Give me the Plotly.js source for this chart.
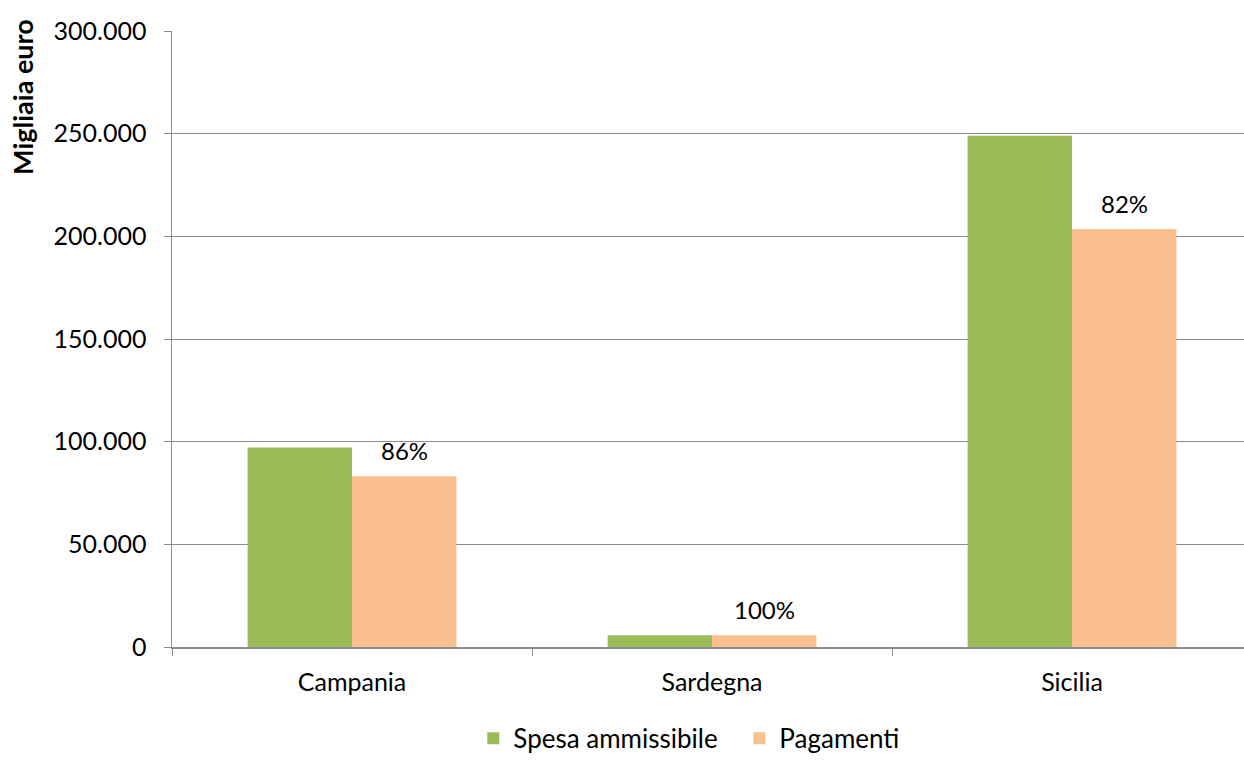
<!DOCTYPE html>
<html>
<head>
<meta charset="utf-8">
<script src="https://cdn.plot.ly/plotly-3.0.1.min.js"></script>
<style>
  html, body { margin: 0; padding: 0; overflow: hidden; background: #fff; }
  #chart { width: 1262px; height: 760px; }
</style>
</head>
<body>
<div id="chart"></div>
<script>
// Regions and amounts (thousands of euro)
const regioni = ["Campania", "Sardegna", "Sicilia"];
const spesaAmmissibile = [97100, 5700, 249000];
const pagamenti = [83100, 5700, 203600];
const yTickValues = [0, 50000, 100000, 150000, 200000, 250000, 300000];
const yTickLabels = ["0", "50.000", "100.000", "150.000", "200.000", "250.000", "300.000"];

const FONT = "Lato, 'Open Sans', sans-serif";
const GRID = "#8c8c8c";

const traces = [
  {
    type: "bar",
    name: "Spesa ammissibile",
    x: regioni,
    y: spesaAmmissibile,
    marker: { color: "#9BBB59" },
    hoverinfo: "x+y"
  },
  {
    type: "bar",
    name: "Pagamenti",
    x: regioni,
    y: pagamenti,
    marker: { color: "#FAC090" },
    hoverinfo: "x+y"
  }
];

// Share of payments over eligible spending, shown above each payment bar
const annotations = regioni.map((r, i) => ({
  x: r,
  y: pagamenti[i],
  xref: "x",
  yref: "y",
  xshift: 52,
  yshift: 9,
  yanchor: "bottom",
  showarrow: false,
  text: Math.round(pagamenti[i] / spesaAmmissibile[i] * 100) + "%",
  font: { family: FONT, size: 24, color: "#000" }
}));

annotations.push({
  xref: "paper",
  yref: "paper",
  x: 0,
  y: 0.893,
  xshift: -149,
  xanchor: "center",
  yanchor: "middle",
  textangle: -90,
  showarrow: false,
  text: "<b>Migliaia euro</b>",
  font: { family: FONT, size: 27, color: "#000" }
});

const layout = {
  width: 1262,
  height: 760,
  margin: { l: 172, r: 10, t: 31, b: 113, autoexpand: false },
  paper_bgcolor: "#fff",
  plot_bgcolor: "#fff",
  barmode: "group",
  bargap: 0.42,
  bargroupgap: 0,
  font: { family: FONT, size: 25, color: "#000" },
  showlegend: true,
  legend: {
    orientation: "h",
    x: 0.279,
    xanchor: "left",
    y: -0.11,
    yanchor: "top",
    font: { family: FONT, size: 26, color: "#000" },
    itemwidth: 30,
    entrywidth: 221,
    entrywidthmode: "pixels",
    traceorder: "normal"
  },
  xaxis: {
    type: "category",
    showgrid: false,
    showline: true,
    linecolor: GRID,
    linewidth: 1.5,
    ticks: "outside",
    tickson: "boundaries",
    ticklen: 7,
    tickcolor: GRID,
    ticklabelstandoff: 12,
    tickfont: { family: FONT, size: 25 },
    zeroline: false
  },
  yaxis: {
    range: [0, 300000],
    tickvals: yTickValues,
    ticktext: yTickLabels,
    showgrid: true,
    gridcolor: GRID,
    gridwidth: 1,
    showline: true,
    linecolor: GRID,
    linewidth: 1.5,
    ticks: "outside",
    ticklen: 7,
    tickcolor: GRID,
    ticklabelstandoff: 12,
    tickfont: { family: FONT, size: 25 },
    zeroline: false
  },
  annotations: annotations
};

Plotly.newPlot("chart", traces, layout, { displayModeBar: false, staticPlot: true });
</script>
</body>
</html>
